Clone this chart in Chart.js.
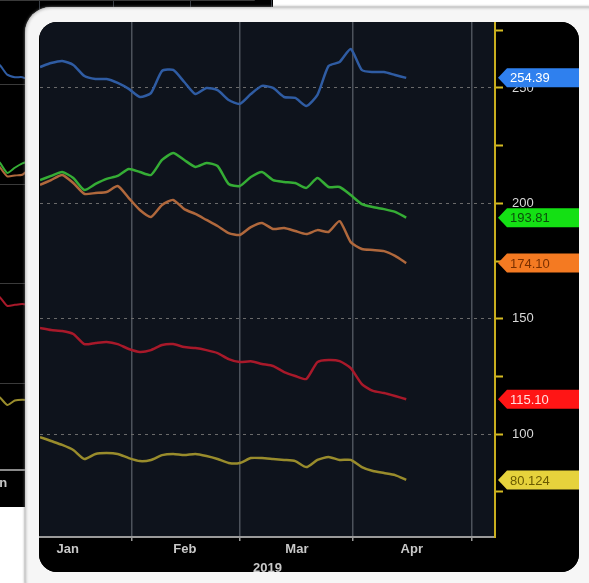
<!DOCTYPE html>
<html>
<head>
<meta charset="utf-8">
<script src="https://cdn.jsdelivr.net/npm/chart.js@4"></script>
<style>
html, body { margin: 0; padding: 0; background: #fff; width: 589px; height: 583px; overflow: hidden; position: relative; }
#back { position: absolute; left: -40px; top: 0; width: 313px; height: 507px; background: #000; }
#frame { position: absolute; left: 25px; top: 7px; width: 590px; height: 600px; background: #f6f6f6; border-radius: 26px;
         box-shadow: inset 0 0 3px 1px #b8b8b8, 0 0 3px #777; }
#inner { position: absolute; left: 14px; top: 15px; width: 540px; height: 550px; background: #000; border-radius: 18px; overflow: hidden; }
canvas { display: block; }
</style>
</head>
<body>
<div id="back"><canvas id="backChart" width="313" height="507"></canvas></div>
<div id="frame"><div id="inner"><canvas id="mainChart" width="540" height="550"></canvas></div></div>
<script>
// trading days since the start of the window (one sample every 2 days)
const days = [0,2,4,6,8,10,12,14,16,18,20,22,24,26,28,30,32,34,36,38,40,42,44,46,48,50,52,54,56,58,60,62,64,66];

// index levels
const blue   = [259.1,260.8,261.7,260.0,255.2,253.9,253.9,252.2,249.6,246.1,247.8,257.4,257.8,252.6,247.4,250.0,249.1,244.8,243.1,247.4,250.9,250.0,246.1,245.7,242.2,247.0,259.5,261.3,266.9,257.8,256.9,256.9,255.6,254.39];
const green  = [210.1,211.9,213.6,211.0,205.8,208.4,210.6,211.9,214.9,213.6,212.3,218.8,221.8,218.8,215.8,217.5,216.2,208.4,207.5,211.4,213.6,210.1,209.3,208.8,206.7,211.0,207.1,207.1,203.6,199.7,198.4,197.5,196.3,193.81];
const orange = [208.0,210.1,212.3,208.8,204.1,204.5,204.9,207.5,202.3,197.1,194.1,199.3,201.5,197.5,195.4,192.8,190.2,187.1,186.3,189.7,191.5,188.9,189.3,188.0,186.7,188.4,187.6,192.3,183.2,180.2,179.8,179.3,177.2,174.10];
const red    = [146.0,145.1,144.7,143.4,139.0,139.5,139.9,139.0,136.9,135.6,136.4,138.6,139.0,137.7,137.3,136.4,135.1,132.5,131.2,131.6,130.4,129.5,126.9,125.2,123.9,131.2,132.1,131.6,128.6,121.7,118.7,117.8,116.5,115.10];
const yellow = [98.7,97.0,95.3,93.1,89.2,91.4,91.8,91.4,89.6,88.3,88.8,90.9,91.4,90.9,91.4,90.5,89.2,87.5,87.5,89.6,89.6,89.2,88.8,88.3,85.7,88.8,90.1,88.8,88.8,85.7,84.0,83.1,82.2,80.124];

// last-value tags on the right axis
const tagLabels = ['254.39', '193.81', '174.10', '115.10', '80.124'];

// month boundaries (grid lines) and month label positions, in trading days
const monthEdges = [16.6, 36.0, 56.4, 77.8];
const monthMids  = [5.0, 26.1, 46.3, 67.0];
const monthNames = ['Jan', 'Feb', 'Mar', 'Apr'];
const yearLabel = '2019';

const seriesColors = ['#2f5ca3', '#35ad35', '#b0683c', '#a8192a', '#998c2c'];
const tagColors = [
    { bg: '#2f80ee', fg: '#ffffff' },
    { bg: '#14e014', fg: '#0b4d0b' },
    { bg: '#f47a22', fg: '#7a3000' },
    { bg: '#ff1515', fg: '#ffe0e0' },
    { bg: '#e6d23c', fg: '#6b5a00' }
];
const allSeries = [blue, green, orange, red, yellow];

function toPoints(values) {
    return days.map((d, i) => ({ x: d, y: values[i] }));
}

function monthTicks(scale) {
    scale.ticks = monthEdges.concat(monthMids).sort((a, b) => a - b).map(v => ({ value: v }));
}

function monthLabel(value) {
    const i = monthMids.indexOf(value);
    return i >= 0 ? monthNames[i] : '';
}

// dark plot background, black elsewhere
const plotBg = {
    id: 'plotBg',
    beforeDraw(chart, args, opts) {
        const { ctx, chartArea: a } = chart;
        ctx.save();
        ctx.fillStyle = '#000';
        ctx.fillRect(0, 0, chart.width, chart.height);
        ctx.fillStyle = opts.color;
        ctx.fillRect(a.left, a.top, a.right - a.left, a.bottom - a.top);
        ctx.restore();
    }
};

// coloured last-value tags, placed with the y scale
const valueTags = {
    id: 'valueTags',
    afterDraw(chart) {
        const { ctx } = chart;
        const y = chart.scales.y;
        const x0 = y.left + 3;
        const h = 19;
        ctx.save();
        ctx.font = '13px "Liberation Sans", Arial, sans-serif';
        ctx.textBaseline = 'middle';
        allSeries.forEach((s, i) => {
            const py = y.getPixelForValue(s[s.length - 1]);
            ctx.fillStyle = tagColors[i].bg;
            ctx.beginPath();
            ctx.moveTo(x0, py);
            ctx.lineTo(x0 + 9, py - h / 2);
            ctx.lineTo(chart.width, py - h / 2);
            ctx.lineTo(chart.width, py + h / 2);
            ctx.lineTo(x0 + 9, py + h / 2);
            ctx.closePath();
            ctx.fill();
            ctx.fillStyle = tagColors[i].fg;
            ctx.fillText(tagLabels[i], x0 + 12, py + 1);
        });
        ctx.restore();
    }
};

function noPad(s) {
    s.paddingTop = 0;
    s.paddingBottom = 0;
}

new Chart(document.getElementById('mainChart'), {
    type: 'line',
    data: {
        datasets: allSeries.map((s, i) => ({
            data: toPoints(s),
            borderColor: seriesColors[i],
            borderWidth: 2.5,
            pointRadius: 0,
            tension: 0.2
        }))
    },
    options: {
        responsive: false,
        animation: false,
        layout: { padding: { left: 1, top: 0, right: 0, bottom: 0 } },
        plugins: {
            legend: { display: false },
            tooltip: { enabled: false },
            plotBg: { color: '#0e131c' }
        },
        scales: {
            x: {
                type: 'linear',
                min: 0,
                max: 82,
                afterBuildTicks: monthTicks,
                afterFit: s => { s.height = 35; s.paddingLeft = 0; s.paddingRight = 0; },
                grid: {
                    color: c => monthEdges.includes(c.tick.value) ? '#4c525b' : 'transparent',
                    lineWidth: 1.5,
                    tickColor: c => monthEdges.includes(c.tick.value) ? '#9a9a9a' : 'transparent',
                    tickLength: 4
                },
                border: { color: '#9a9a9a', width: 2 },
                ticks: {
                    autoSkip: false,
                    maxRotation: 0,
                    padding: 1,
                    color: '#c8c8c8',
                    font: { family: '"Liberation Sans", Arial, sans-serif', size: 13, weight: 'bold' },
                    callback: monthLabel
                },
                title: {
                    display: true,
                    text: yearLabel,
                    color: '#c8c8c8',
                    font: { family: '"Liberation Sans", Arial, sans-serif', size: 13, weight: 'bold' },
                    padding: { top: 0, bottom: -4 }
                }
            },
            y: {
                position: 'right',
                min: 55.4,
                max: 278.6,
                afterFit: s => { s.width = 84; noPad(s); },
                grid: {
                    color: c => c.tick.value % 50 === 0 ? '#6a6a6a' : 'transparent',
                    lineWidth: 1,
                    tickColor: '#d6bc22',
                    tickLength: 8,
                    tickWidth: 2,
                    tickBorderDash: []
                },
                border: { color: '#c9ae1e', width: 2, dash: [3, 4] },
                ticks: {
                    stepSize: 25,
                    includeBounds: false,
                    padding: 9,
                    color: '#d8d8d8',
                    font: { family: '"Liberation Sans", Arial, sans-serif', size: 13 },
                    callback: v => v % 50 === 0 ? String(v) : ''
                }
            }
        }
    },
    plugins: [plotBg, valueTags]
});

// the zoomed-out chart peeking out behind the frame
new Chart(document.getElementById('backChart'), {
    type: 'line',
    data: {
        datasets: allSeries.map((s, i) => ({
            data: toPoints(s),
            borderColor: seriesColors[i],
            borderWidth: 2,
            pointRadius: 0,
            tension: 0.2
        }))
    },
    options: {
        responsive: false,
        animation: false,
        layout: { padding: 0 },
        plugins: { legend: { display: false }, tooltip: { enabled: false } },
        scales: {
            x: {
                type: 'linear',
                min: -4.5,
                max: 73.5,
                afterBuildTicks: monthTicks,
                afterFit: s => { s.height = 37; },
                grid: {
                    color: c => monthEdges.includes(c.tick.value) ? '#3a3f46' : 'transparent',
                    tickLength: 4
                },
                border: { color: '#8a8a8a', width: 2 },
                ticks: {
                    autoSkip: false,
                    maxRotation: 0,
                    padding: 2,
                    color: '#c8c8c8',
                    font: { family: '"Liberation Sans", Arial, sans-serif', size: 13, weight: 'bold' },
                    callback: monthLabel
                }
            },
            y: {
                min: 56.5,
                max: 292.7,
                afterFit: s => { s.width = 0; noPad(s); },
                grid: { color: '#3a3a3a', drawTicks: false },
                border: { display: false },
                ticks: { display: false, stepSize: 50 }
            }
        }
    }
});
</script>
</body>
</html>
